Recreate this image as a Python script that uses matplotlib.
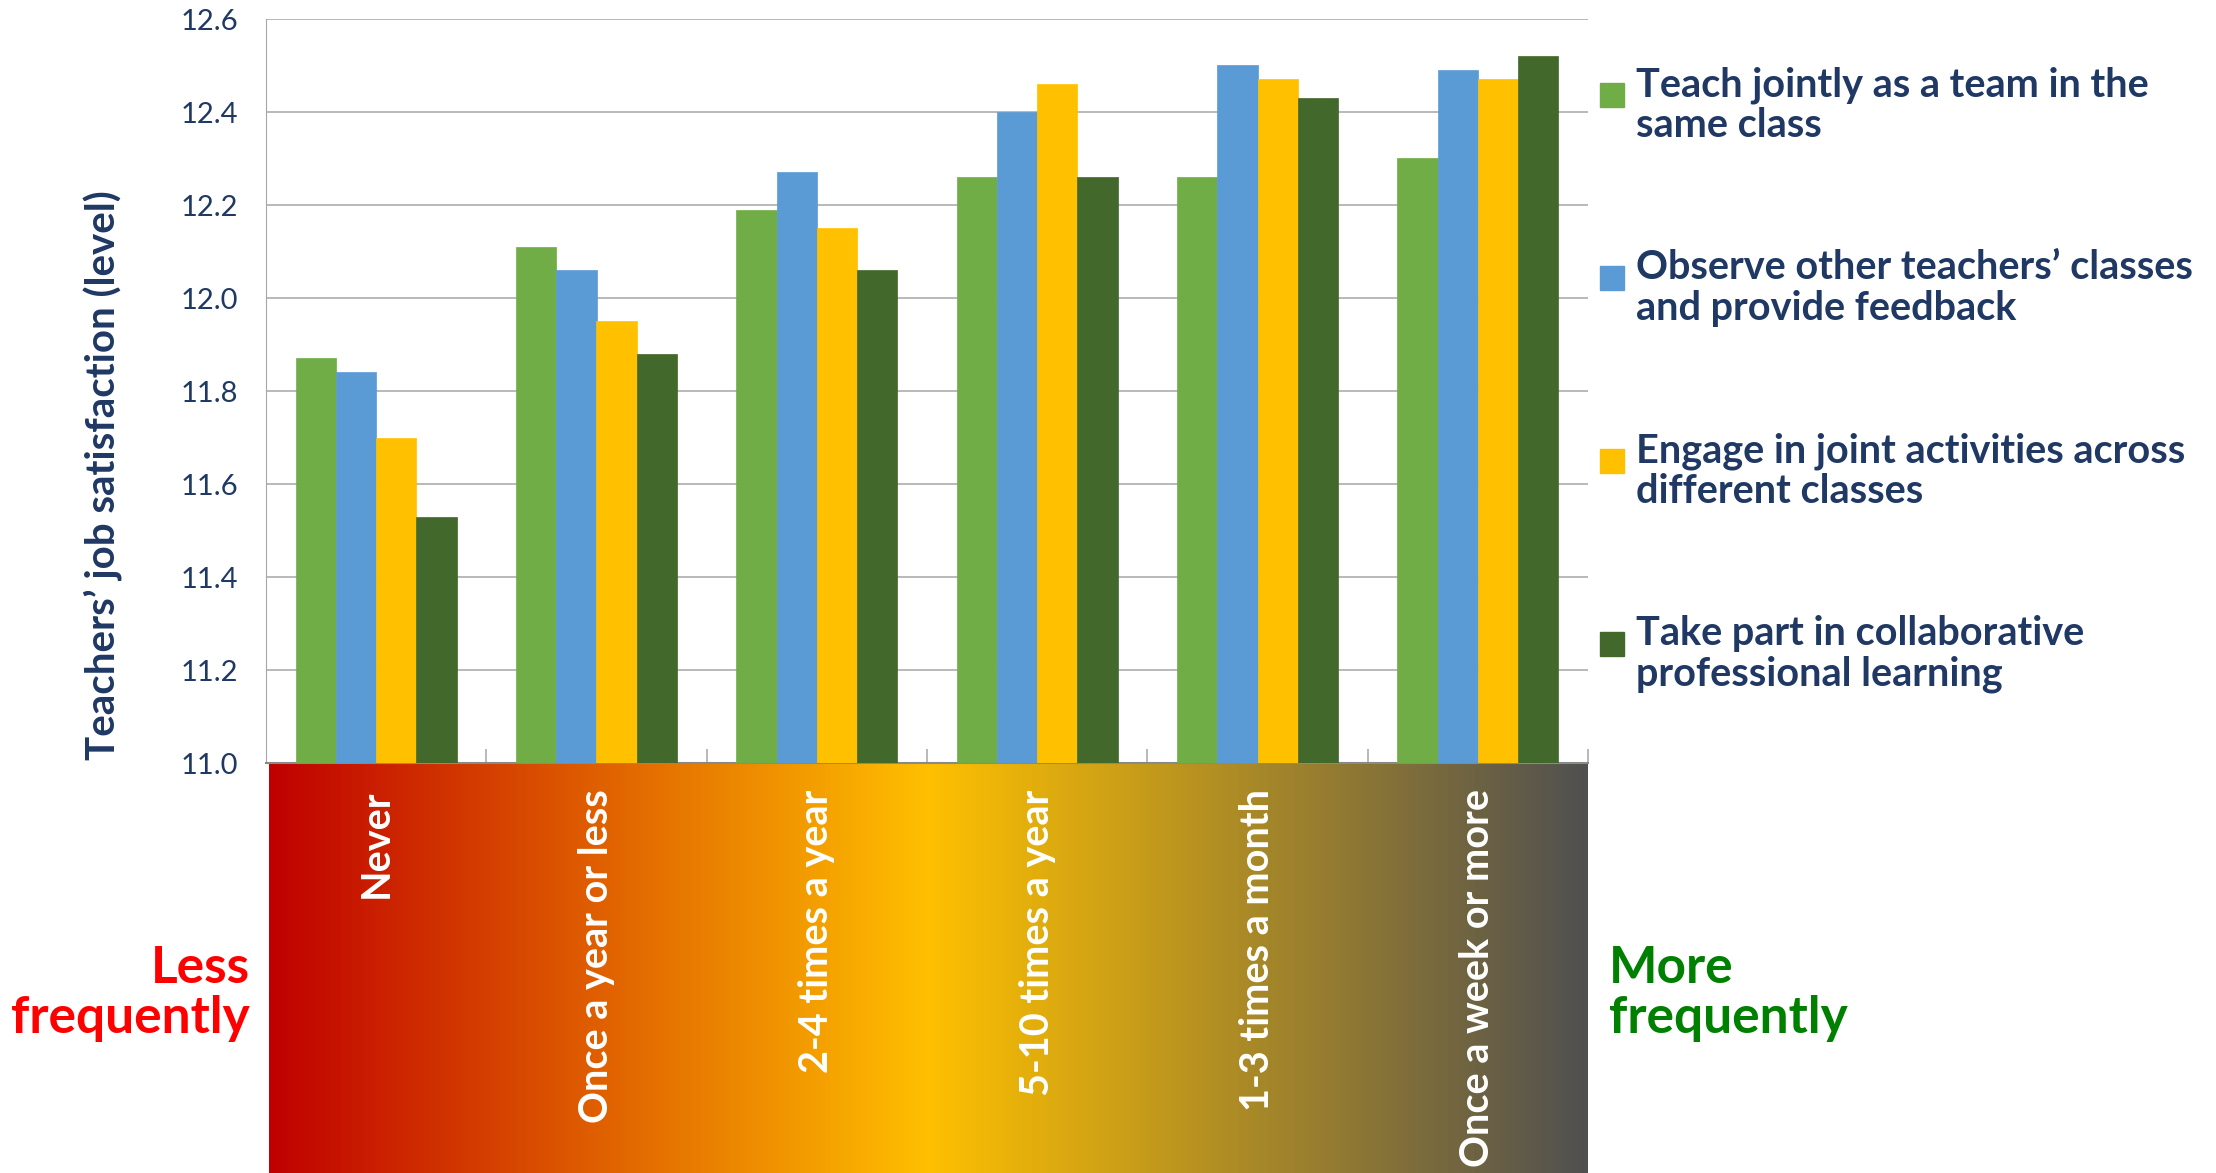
import numpy as np
import matplotlib
matplotlib.use("Agg")
import matplotlib.pyplot as plt
from matplotlib.colors import LinearSegmentedColormap
from matplotlib.patches import Rectangle

plt.rcParams['font.family'] = ['Lato', 'DejaVu Sans']

# frequency of collaboration
categories = ["Never", "Once a year or less", "2-4 times a year",
              "5-10 times a year", "1-3 times a month", "Once a week or more"]

series_names = ["Teach jointly as a team in the\nsame class",
                "Observe other teachers\u2019 classes\nand provide feedback",
                "Engage in joint activities across\ndifferent classes",
                "Take part in collaborative\nprofessional learning"]

teach_jointly = [11.87, 12.11, 12.19, 12.26, 12.26, 12.30]
observe_classes = [11.84, 12.06, 12.27, 12.40, 12.50, 12.49]
joint_activities = [11.70, 11.95, 12.15, 12.46, 12.47, 12.47]
collab_learning = [11.53, 11.88, 12.06, 12.26, 12.43, 12.52]

series_values = [teach_jointly, observe_classes, joint_activities, collab_learning]
colors = ["#70AD47", "#5B9BD5", "#FFC000", "#43682B"]

navy = "#1F3864"
W, H = 2216, 1173


def fx(px):
    return px / W


def fy(py):
    return 1 - py / H


fig = plt.figure(figsize=(W / 100, H / 100), dpi=100)

# gradient strip under the category axis
gax = fig.add_axes([fx(269), 0, fx(1588) - fx(269), fy(763)])
gax.set_zorder(1)
cmap = LinearSegmentedColormap.from_list("freq", [(0, "#C00000"), (0.5, "#FFC000"), (1, "#505050")])
gax.imshow(np.linspace(0, 1, 512)[None, :], cmap=cmap, aspect="auto")
gax.set_axis_off()

ax = fig.add_axes([fx(266), fy(763), fx(1588) - fx(266), fy(19) - fy(763)])
ax.set_zorder(2)
ax.patch.set_alpha(0)

x = np.arange(len(categories))
bw = 0.183
for i, vals in enumerate(series_values):
    ax.bar(x + (i - 1.5) * bw, np.array(vals) - 11.0, bw, bottom=11.0,
           color=colors[i], edgecolor=colors[i], linewidth=0.5, zorder=3)

ax.set_xlim(-0.5, len(categories) - 0.5)
ax.set_ylim(11.0, 12.6)
ax.set_yticks(np.arange(11.0, 12.61, 0.2))
ax.set_yticklabels([f"{v:.1f}" for v in np.arange(11.0, 12.61, 0.2)])
ax.yaxis.grid(True, color="#A6A6A6", linewidth=1.1, zorder=0)
ax.set_axisbelow(True)
ax.tick_params(axis="y", length=0, pad=20, labelsize=21, labelcolor=navy)

ax.set_xticks(x)
ax.set_xticklabels(categories, rotation=90, fontsize=28.5, fontweight="bold", color="white")
ax.set_xticks(np.arange(0.5, len(categories), 1.0), minor=True)
ax.tick_params(axis="x", which="major", length=0, pad=19)
ax.tick_params(axis="x", which="minor", direction="in", length=10, width=1.1, color="#A6A6A6")

for s in ["top", "right"]:
    ax.spines[s].set_visible(False)
ax.spines["left"].set_color("#A6A6A6")
ax.spines["bottom"].set_color("#898989")
ax.spines["bottom"].set_linewidth(1.5)

ax.set_ylabel("Teachers\u2019 job satisfaction (level)", fontsize=29, fontweight="bold", color=navy)
ax.yaxis.set_label_coords(-0.108, (763 - 475) / 744)

# legend on the right
for i, name in enumerate(series_names):
    top = 83 + 183 * i
    fig.add_artist(Rectangle((fx(1600), fy(top + 24)), fx(24), 24 / H,
                             transform=fig.transFigure, color=colors[i]))
    fig.text(fx(1636), fy(top - 17), name, fontsize=28.5, fontweight="bold",
             color=navy, va="top", ha="left", linespacing=1.12)

fig.text(fx(250), fy(945), "Less\nfrequently", fontsize=37, fontweight="bold",
         color="#FF0000", ha="right", va="top", linespacing=1.08)
fig.text(fx(1609), fy(945), "More\nfrequently", fontsize=37, fontweight="bold",
         color="#008000", ha="left", va="top", linespacing=1.08)

fig.savefig("out.png", dpi=100)
